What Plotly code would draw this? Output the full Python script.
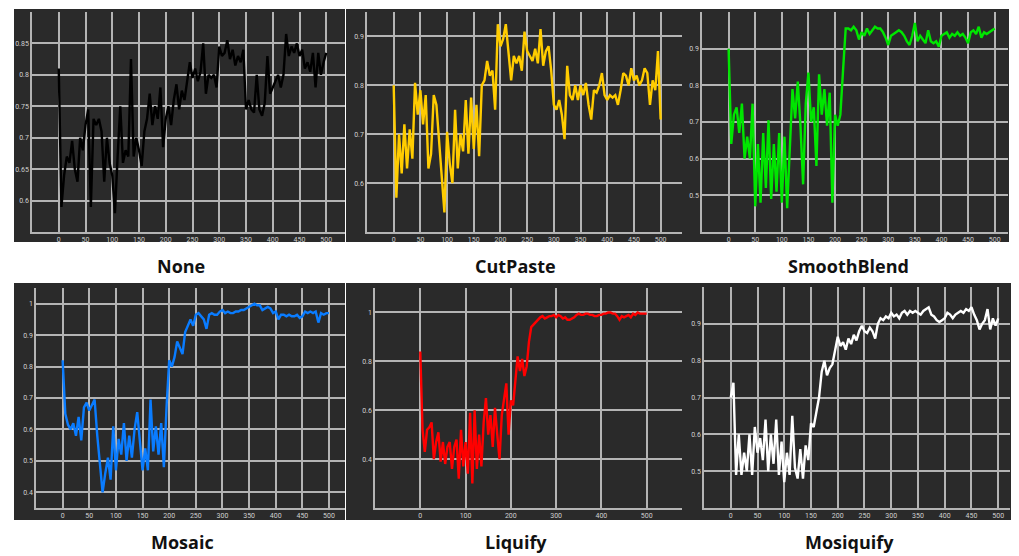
import plotly.graph_objects as go

W, H = 1019, 556

# ---------------- data ----------------
epochs = list(range(0, 501, 5))

none_vals = [0.81, 0.59, 0.64, 0.67, 0.66, 0.695, 0.65, 0.63, 0.70, 0.68,
             0.72, 0.745, 0.59, 0.73, 0.72, 0.73, 0.71, 0.63, 0.70, 0.66,
             0.64, 0.58, 0.67, 0.75, 0.66, 0.68, 0.67, 0.825, 0.67, 0.70,
             0.68, 0.655, 0.71, 0.73, 0.77, 0.72, 0.75, 0.73, 0.78, 0.685,
             0.73, 0.75, 0.72, 0.76, 0.785, 0.745, 0.775, 0.76, 0.79, 0.82,
             0.795, 0.81, 0.79, 0.805, 0.85, 0.77, 0.80, 0.795, 0.80, 0.78,
             0.845, 0.83, 0.835, 0.855, 0.825, 0.84, 0.815, 0.83, 0.82, 0.84,
             0.745, 0.76, 0.745, 0.74, 0.80, 0.745, 0.735, 0.755, 0.83, 0.77,
             0.78, 0.79, 0.80, 0.78, 0.80, 0.865, 0.83, 0.845, 0.835, 0.85,
             0.83, 0.84, 0.81, 0.82, 0.805, 0.835, 0.78, 0.835, 0.80, 0.82,
             0.835]

cutpaste_vals = [0.80, 0.57, 0.70, 0.62, 0.72, 0.63, 0.71, 0.65, 0.805, 0.74,
                 0.79, 0.72, 0.78, 0.63, 0.66, 0.78, 0.76, 0.68, 0.60, 0.54,
                 0.705, 0.64, 0.60, 0.75, 0.63, 0.70, 0.665, 0.77, 0.66, 0.775,
                 0.67, 0.76, 0.655, 0.80, 0.81, 0.85, 0.82, 0.83, 0.75, 0.925,
                 0.88, 0.895, 0.925, 0.87, 0.81, 0.86, 0.845, 0.86, 0.83, 0.91,
                 0.87, 0.86, 0.85, 0.875, 0.845, 0.915, 0.84, 0.87, 0.88, 0.83,
                 0.76, 0.75, 0.77, 0.74, 0.69, 0.84, 0.78, 0.77, 0.80, 0.77,
                 0.80, 0.78, 0.805, 0.76, 0.73, 0.79, 0.785, 0.80, 0.825, 0.78,
                 0.77, 0.78, 0.775, 0.78, 0.76, 0.79, 0.825, 0.82, 0.80, 0.835,
                 0.81, 0.82, 0.80, 0.81, 0.835, 0.825, 0.76, 0.81, 0.79, 0.87,
                 0.73]

smoothblend_vals = [0.90, 0.64, 0.72, 0.74, 0.67, 0.75, 0.60, 0.66, 0.60, 0.75,
                    0.47, 0.64, 0.48, 0.67, 0.52, 0.705, 0.49, 0.64, 0.51, 0.67,
                    0.48, 0.66, 0.465, 0.63, 0.79, 0.71, 0.81, 0.69, 0.53, 0.75,
                    0.835, 0.70, 0.74, 0.58, 0.83, 0.72, 0.79, 0.69, 0.78, 0.48,
                    0.72, 0.69, 0.72, 0.84, 0.955, 0.955, 0.95, 0.96, 0.95, 0.925,
                    0.945, 0.935, 0.955, 0.94, 0.95, 0.96, 0.955, 0.955, 0.945, 0.93,
                    0.91, 0.935, 0.94, 0.945, 0.95, 0.945, 0.935, 0.92, 0.91, 0.935,
                    0.97, 0.92, 0.935, 0.925, 0.915, 0.95, 0.92, 0.915, 0.92, 0.905,
                    0.935, 0.94, 0.945, 0.93, 0.94, 0.935, 0.945, 0.935, 0.94, 0.93,
                    0.915, 0.945, 0.95, 0.94, 0.96, 0.93, 0.945, 0.94, 0.945, 0.95,
                    0.955]

mosaic_vals = [0.82, 0.65, 0.615, 0.60, 0.62, 0.58, 0.64, 0.565, 0.67, 0.685,
               0.66, 0.68, 0.695, 0.58, 0.50, 0.40, 0.46, 0.51, 0.44, 0.61,
               0.47, 0.57, 0.52, 0.62, 0.50, 0.58, 0.51, 0.60, 0.655, 0.55,
               0.47, 0.54, 0.47, 0.695, 0.53, 0.61, 0.52, 0.62, 0.48, 0.67,
               0.82, 0.80, 0.83, 0.88, 0.86, 0.84, 0.91, 0.93, 0.95, 0.93,
               0.965, 0.97, 0.96, 0.95, 0.92, 0.965, 0.97, 0.965, 0.965, 0.975,
               0.98, 0.97, 0.975, 0.97, 0.97, 0.975, 0.975, 0.98, 0.98, 0.985,
               0.99, 0.995, 1.0, 0.995, 0.995, 0.98, 0.985, 0.99, 0.985, 0.97,
               0.975, 0.95, 0.965, 0.965, 0.96, 0.965, 0.96, 0.96, 0.965, 0.955,
               0.96, 0.975, 0.97, 0.975, 0.97, 0.975, 0.94, 0.97, 0.965, 0.97,
               0.97]

liquify_vals = [0.84, 0.52, 0.43, 0.52, 0.53, 0.55, 0.40, 0.47, 0.51, 0.39,
                0.47, 0.38, 0.45, 0.47, 0.36, 0.45, 0.48, 0.32, 0.52, 0.37,
                0.47, 0.34, 0.59, 0.30, 0.60, 0.36, 0.50, 0.37, 0.55, 0.65,
                0.50, 0.58, 0.45, 0.61, 0.50, 0.40, 0.58, 0.64, 0.71, 0.50,
                0.64, 0.62, 0.71, 0.82, 0.76, 0.81, 0.74, 0.78, 0.88, 0.94,
                0.95, 0.96, 0.97, 0.98, 0.985, 0.975, 0.98, 0.985, 0.985, 0.99,
                0.98, 0.99, 0.985, 0.975, 0.98, 0.97, 0.97, 0.975, 0.98, 0.99,
                0.995, 0.99, 0.99, 0.995, 0.995, 0.99, 0.99, 0.985, 0.985, 0.99,
                0.99, 0.995, 0.995, 1.0, 1.0, 0.995, 0.995, 0.985, 0.97, 0.985,
                0.98, 0.985, 0.99, 0.98, 0.995, 0.99, 1.0, 0.995, 0.995, 0.995,
                0.995]

mosiquify_vals = [0.70, 0.74, 0.49, 0.60, 0.49, 0.55, 0.50, 0.60, 0.49, 0.62,
                  0.55, 0.59, 0.53, 0.64, 0.50, 0.60, 0.52, 0.64, 0.49, 0.58,
                  0.47, 0.55, 0.49, 0.65, 0.51, 0.48, 0.56, 0.48, 0.57, 0.53,
                  0.63, 0.62, 0.66, 0.70, 0.77, 0.80, 0.76, 0.78, 0.79, 0.83,
                  0.865, 0.84, 0.85, 0.83, 0.86, 0.845, 0.87, 0.855, 0.88, 0.895,
                  0.88, 0.875, 0.89, 0.88, 0.86, 0.90, 0.915, 0.91, 0.92, 0.915,
                  0.93, 0.92, 0.925, 0.915, 0.93, 0.935, 0.925, 0.935, 0.93, 0.935,
                  0.93, 0.925, 0.935, 0.94, 0.945, 0.925, 0.92, 0.91, 0.905, 0.91,
                  0.915, 0.93, 0.925, 0.915, 0.925, 0.93, 0.935, 0.93, 0.94, 0.935,
                  0.945, 0.925, 0.91, 0.885, 0.90, 0.91, 0.94, 0.885, 0.915, 0.895,
                  0.915]

titles = ["None", "CutPaste", "SmoothBlend", "Mosaic", "Liquify", "Mosiquify"]
series = [none_vals, cutpaste_vals, smoothblend_vals, mosaic_vals, liquify_vals, mosiquify_vals]

x_ticks_50 = [0, 50, 100, 150, 200, 250, 300, 350, 400, 450, 500]
x_ticks_100 = [0, 100, 200, 300, 400, 500]
y_ticks = [
    [0.6, 0.65, 0.7, 0.75, 0.8, 0.85],
    [0.6, 0.7, 0.8, 0.9],
    [0.5, 0.6, 0.7, 0.8, 0.9],
    [0.4, 0.5, 0.6, 0.7, 0.8, 0.9, 1],
    [0.4, 0.6, 0.8, 1],
    [0.5, 0.6, 0.7, 0.8, 0.9],
]
x_ranges = [[-50, 535], [-50, 540], [-50, 525], [-50, 530], [-100, 578], [-50, 522]]
y_ranges = [[0.55, 0.9], [0.5, 0.95], [0.4, 1.0], [0.35, 1.05], [0.2, 1.1], [0.4, 1.0]]

# ---------------- styling / layout ----------------
colors = ["#000000", "#ffcc00", "#00e600", "#0a7cff", "#ff0000", "#ffffff"]
# plot areas in pixels: left, top, right, bottom
plot_px = [(32, 12, 345, 232), (367, 12, 682, 232), (702, 12, 1008, 232),
           (36, 288, 345, 508), (375, 288, 682, 508), (704, 287, 1010, 508)]
# dark panel rectangles in pixels
panel_px = [(14, 9, 345, 242), (346, 9, 697, 242), (697, 9, 1009, 242),
            (14, 283, 345, 520), (346, 283, 697, 520), (697, 283, 1011, 520)]
title_px = [(181, 266), (515, 266), (848, 266), (182, 542), (516, 542), (849, 542)]

DARK = "#2a2a2a"
GRID = "#b4b4b4"
TICKC = "#d0d0d0"

fig = go.Figure()
layout = dict(width=W, height=H, margin=dict(l=0, r=0, t=0, b=0),
              paper_bgcolor="white", plot_bgcolor=DARK, showlegend=False,
              shapes=[], annotations=[])

for i in range(6):
    n = "" if i == 0 else str(i + 1)
    l, t, r, b = plot_px[i]
    fig.add_trace(go.Scatter(x=epochs, y=series[i], mode="lines",
                             line=dict(color=colors[i], width=2.4),
                             xaxis="x" + n, yaxis="y" + n, hoverinfo="skip"))
    layout["xaxis" + n] = dict(domain=[l / W, r / W], anchor="y" + n,
                               range=x_ranges[i],
                               tickvals=x_ticks_100 if i == 4 else x_ticks_50,
                               showgrid=True, gridcolor=GRID, gridwidth=1.5,
                               zeroline=False, showline=True, linecolor=GRID,
                               linewidth=1.5, ticks="",
                               tickfont=dict(size=7, color=TICKC, family="Roboto"))
    layout["yaxis" + n] = dict(domain=[1 - b / H, 1 - t / H], anchor="x" + n,
                               range=y_ranges[i], tickvals=y_ticks[i],
                               showgrid=True, gridcolor=GRID, gridwidth=1.5,
                               zeroline=False, showline=True, linecolor=GRID,
                               linewidth=1.5, ticks="",
                               tickfont=dict(size=7, color=TICKC, family="Roboto"))
    pl, pt, pr, pb = panel_px[i]
    layout["shapes"].append(dict(type="rect", xref="paper", yref="paper",
                                 x0=pl / W, x1=pr / W, y0=1 - pb / H, y1=1 - pt / H,
                                 fillcolor=DARK, line=dict(width=0), layer="below"))
    tx, ty = title_px[i]
    layout["annotations"].append(dict(text="<b>" + titles[i] + "</b>", xref="paper", yref="paper",
                                      x=tx / W, y=1 - ty / H, xanchor="center", yanchor="middle",
                                      showarrow=False,
                                      font=dict(size=18, color="#111111", family="Open Sans")))

fig.update_layout(**layout)
fig.write_html("out.html")
